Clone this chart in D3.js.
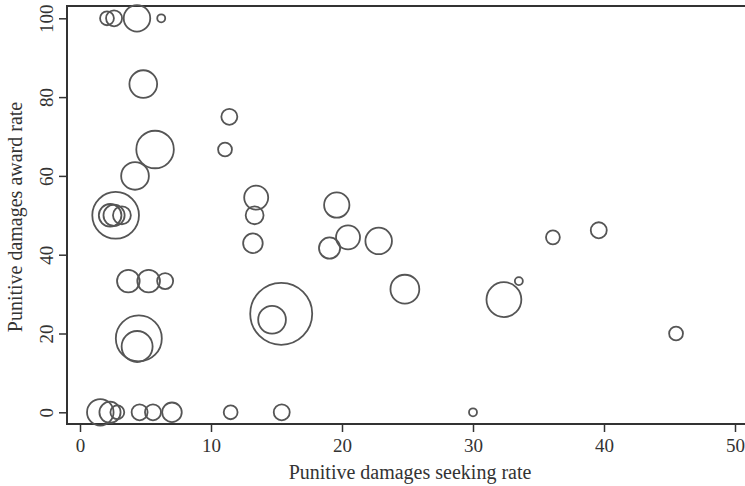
<!DOCTYPE html>
<html lang="en">
<head>
  <meta charset="utf-8">
  <title>Punitive damages bubble chart</title>
  <style>
    body { margin: 0; background: #fff; }
    svg { display: block; }
    .tick text { font-family: 'Liberation Serif', serif; font-size: 19px; fill: #333; }
    .tick line { stroke: #333; stroke-width: 1.5; }
    .frame { stroke: #333; stroke-width: 2; }
    .axis-title { font-family: 'Liberation Serif', serif; font-size: 20px; fill: #333; text-anchor: middle; }
    .bubble { fill: none; stroke: #555; stroke-width: 1.8; }
  </style>
</head>
<body>
  <div id="chart"></div>
  <script src="https://d3js.org/d3.v7.min.js"></script>
  <script>
    // seeking rate (x), award rate (y), number of cases (bubble weight)
    var seekRate = [2.06, 2.6, 4.35, 6.2, 4.83, 11.4, 11.07, 5.73, 4.2, 2.72,
                    2.3, 2.6, 3.2, 3.69, 5.24, 6.5, 4.49, 4.36, 1.55, 2.29,
                    2.85, 4.55, 5.57, 7.02, 11.5, 15.4, 30.0, 13.45, 13.33, 13.2,
                    19.6, 20.46, 19.05, 22.8, 24.8, 15.36, 14.66, 36.1, 39.6, 32.36,
                    33.5, 45.5];
    var awardRate = [100, 100, 100, 100, 83.3, 75, 66.7, 66.7, 60, 50,
                     50, 50, 50, 33.3, 33.3, 33.3, 18.75, 16.7, 0, 0,
                     0, 0, 0, 0, 0, 0, 0, 54.5, 50, 42.9,
                     52.6, 44.4, 41.7, 43.5, 31.25, 25, 23.5, 44.4, 46.2, 28.6,
                     33.3, 20];
    var nCases = [3, 4, 11, 1, 12, 4, 3, 22, 12, 34,
                  8, 7, 5, 8, 8, 4, 33, 15, 11, 7,
                  3, 4, 4, 6, 3, 4, 1, 9, 5, 6,
                  10, 9, 7, 11, 13, 60, 12, 3, 4, 19,
                  1, 3];
    var xTicks = [0, 10, 20, 30, 40, 50];
    var yTicks = [0, 20, 40, 60, 80, 100];

    var data = seekRate.map(function(d, i) {
      return { x: d, y: awardRate[i], n: nCases[i] };
    });

    var width = 745, height = 486;
    var frameLeft = 67, frameTop = 6, frameBottom = 424;

    var svg = d3.select("#chart")
      .append("svg")
      .attr("width", width)
      .attr("height", height);

    var xScale = d3.scaleLinear().domain([0, 50]).range([80, 735]);
    var yScale = d3.scaleLinear().domain([0, 100]).range([412.3, 18.3]);
    var rScale = d3.scaleSqrt().domain([0, 60]).range([0, 31]);

    // frame lines (left, bottom, top)
    svg.append("line").attr("class", "frame")
      .attr("x1", frameLeft).attr("x2", frameLeft)
      .attr("y1", frameTop - 1).attr("y2", frameBottom + 1);
    svg.append("line").attr("class", "frame")
      .attr("x1", frameLeft).attr("x2", width)
      .attr("y1", frameBottom).attr("y2", frameBottom);
    svg.append("line").attr("class", "frame")
      .attr("x1", frameLeft).attr("x2", width)
      .attr("y1", frameTop).attr("y2", frameTop);

    // x axis
    var xAxis = svg.append("g")
      .attr("transform", "translate(0," + frameBottom + ")")
      .call(d3.axisBottom(xScale).tickValues(xTicks).tickSize(8).tickPadding(7).tickSizeOuter(0));
    xAxis.select(".domain").remove();

    // y axis, labels rotated
    var yAxis = svg.append("g")
      .attr("transform", "translate(" + frameLeft + ",0)")
      .call(d3.axisLeft(yScale).tickValues(yTicks).tickSize(8).tickSizeOuter(0));
    yAxis.select(".domain").remove();
    yAxis.selectAll(".tick text")
      .attr("x", null).attr("dy", null)
      .attr("transform", "translate(-14,0) rotate(-90)")
      .style("text-anchor", "middle");

    // axis titles
    svg.append("text").attr("class", "axis-title")
      .attr("x", 410).attr("y", 479)
      .text("Punitive damages seeking rate");
    svg.append("text").attr("class", "axis-title")
      .attr("transform", "translate(22," + 217 + ") rotate(-90)")
      .text("Punitive damages award rate");

    // bubbles
    svg.append("g").selectAll("circle")
      .data(data)
      .enter()
      .append("circle")
      .attr("class", "bubble")
      .attr("cx", function(d) { return xScale(d.x); })
      .attr("cy", function(d) { return yScale(d.y); })
      .attr("r", function(d) { return rScale(d.n); });
  </script>
</body>
</html>
